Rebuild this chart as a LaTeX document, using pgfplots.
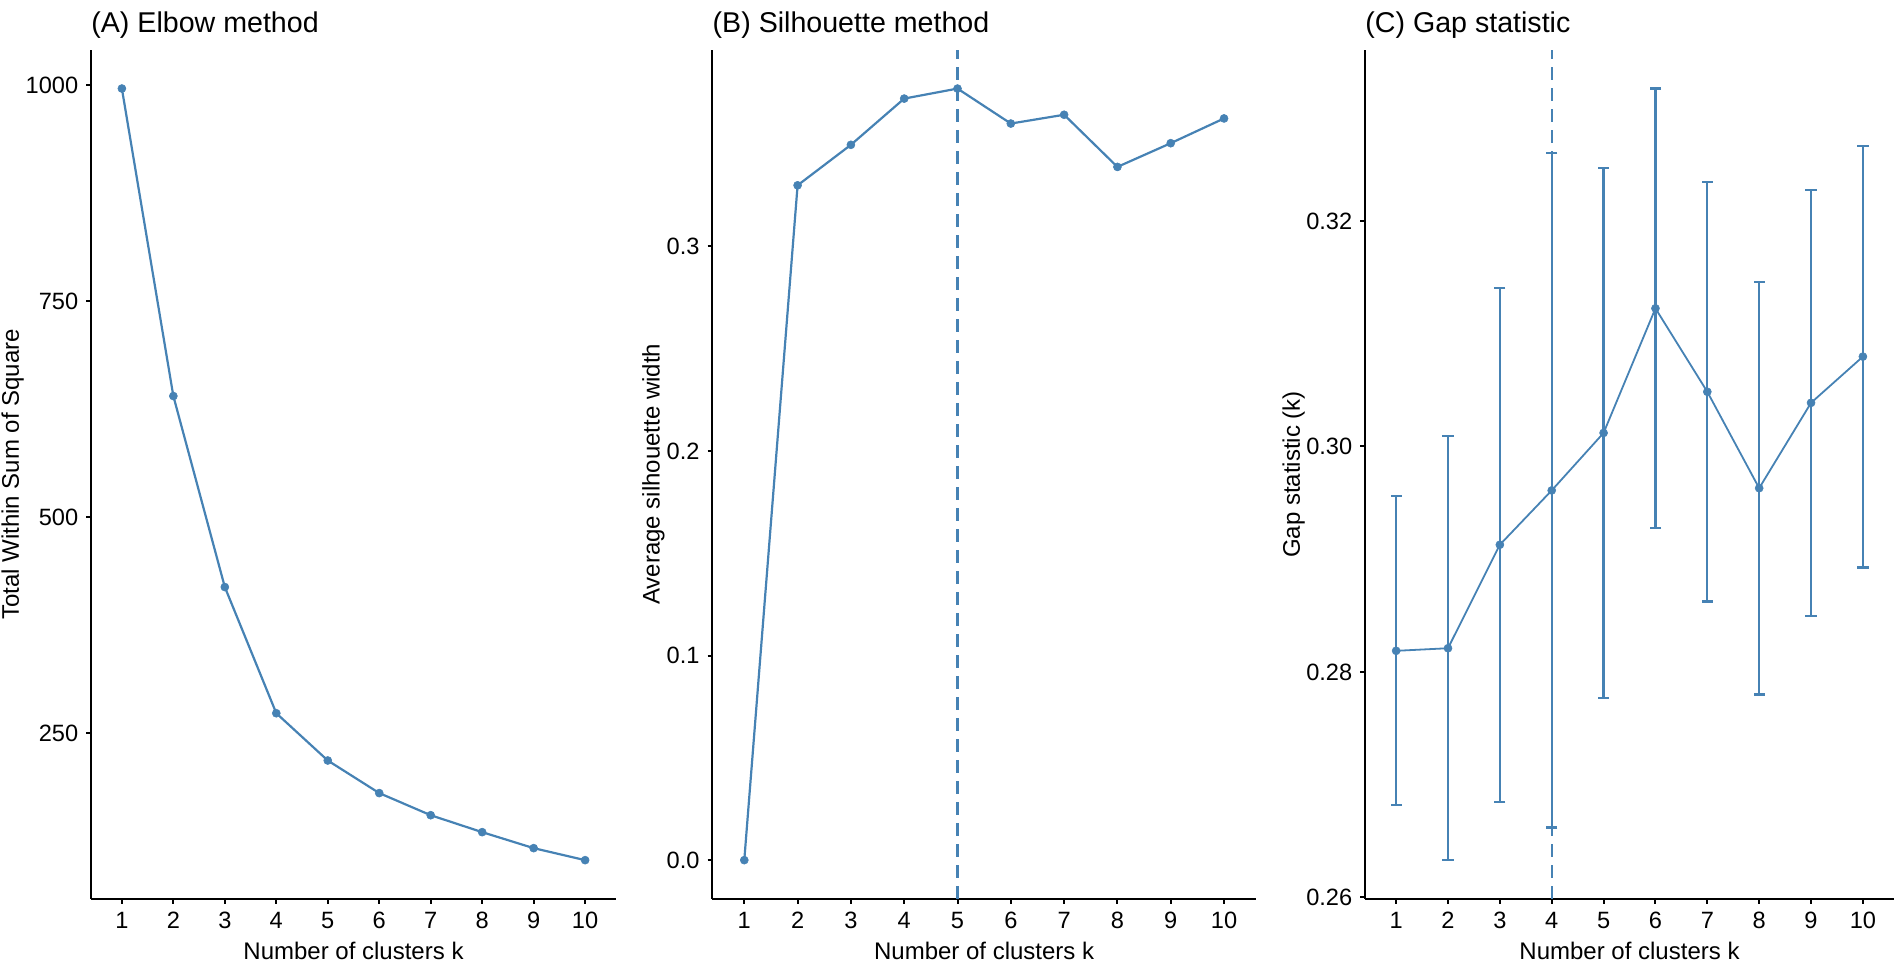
\documentclass[border=0pt]{standalone}
\usepackage{fontspec}
\setmainfont{Liberation Sans}
\usepackage{pgfplots}
\usepackage{pgfplotstable}
\pgfplotsset{compat=1.18}
\definecolor{steel}{RGB}{70,130,180}

\pgfplotstableread{
k gap se
1 0.28187 0.0137
2 0.2821 0.0188
3 0.29128 0.0228
4 0.2961 0.0299
5 0.3012 0.0235
6 0.31225 0.0195
7 0.30485 0.0186
8 0.2963 0.0183
9 0.30387 0.0189
10 0.30797 0.0187
}\gapdata

\pgfplotsset{
  panel/.style={
    scale only axis,
    height=424.35pt,
    anchor=south west,
    axis lines*=left,
    axis line style={line width=1pt, black},
    tick align=outside,
    major tick length=2.4pt,
    tick style={line width=1pt, black},
    xmin=0.4, xmax=10.6,
    xtick={1,...,10},
    xticklabels={1,2,3,4,5,6,7,8,9,10},
    tick label style={font=\fontsize{11.8}{14}\selectfont, inner sep=0pt},
    yticklabel shift=3.8pt,
    xticklabel shift=4.1pt,
    scaled y ticks=false,
    xlabel={Number of clusters k},
    every axis x label/.style={at={(axis description cs:0.5,-0.0507)}, anchor=north,
      inner sep=0pt, font=\fontsize{12}{14}\selectfont},
    every axis y label/.style={rotate=90, anchor=north, inner sep=0pt,
      font=\fontsize{12}{14}\selectfont},
    every axis title/.style={at={(axis description cs:0,1.0209)}, anchor=base west,
      inner sep=0pt, font=\fontsize{14.3}{17}\selectfont},
  },
  curve/.style={steel, line width=1.1pt, mark=*, mark size=2pt,
    mark options={solid, fill=steel, draw=steel, line width=0.3pt}},
  vline/.style={steel, line width=1.1pt, dash pattern=on 6.5pt off 4pt},
  cap/.style={only marks, mark=-, mark size=2.8pt,
    mark options={steel, line width=1.1pt, solid}},
}

\begin{document}
\begin{tikzpicture}
\useasboundingbox (0,0) rectangle (947pt,482pt);

% (A) elbow
\begin{axis}[panel,
  at={(45.5pt,32.65pt)}, width=262.5pt,
  ymin=58.4, ymax=1040.4,
  ytick={250,500,750,1000},
  yticklabels={250,500,750,1000},
  ylabel={Total Within Sum of Square},
  ylabel style={at={(axis description cs:-0.1714,0.5)}},
  title={(A) Elbow method},
]
\addplot[curve] coordinates {
  (1,995.8) (2,640) (3,419) (4,273) (5,218.3)
  (6,180.6) (7,155) (8,135.4) (9,116.9) (10,103)
};
\end{axis}

% (B) silhouette
\begin{axis}[panel,
  at={(356.15pt,32.65pt)}, width=271.85pt,
  ymin=-0.01886, ymax=0.39606,
  ytick={0,0.1,0.2,0.3},
  yticklabels={0.0,0.1,0.2,0.3},
  ylabel={Average silhouette width},
  ylabel style={at={(axis description cs:-0.1295,0.5)}},
  title={(B) Silhouette method},
]
\addplot[vline] coordinates {(5,-0.01886) (5,0.39606)};
\addplot[curve] coordinates {
  (1,0) (2,0.3299) (3,0.3497) (4,0.3723) (5,0.3772)
  (6,0.3601) (7,0.3644) (8,0.3389) (9,0.3505) (10,0.3626)
};
\end{axis}

% (C) gap statistic
\begin{axis}[panel,
  at={(682.5pt,32.65pt)}, width=264.5pt,
  ymin=0.25988, ymax=0.33517,
  ytick={0.26,0.28,0.30,0.32},
  yticklabels={0.26,0.28,0.30,0.32},
  ylabel={Gap statistic (k)},
  ylabel style={at={(axis description cs:-0.1569,0.5)}},
  title={(C) Gap statistic},
]
\addplot[vline] coordinates {(4,0.25988) (4,0.33517)};
% whiskers
\addplot[steel, line width=1.1pt, mark=none, draw=none,
  error bars/.cd, y dir=both, y explicit, error mark=none,
  error bar style={line width=1.1pt, steel, solid},
] table[x=k, y=gap, y error=se] {\gapdata};
% caps
\addplot[cap] table[x=k, y expr=\thisrow{gap}+\thisrow{se}] {\gapdata};
\addplot[cap] table[x=k, y expr=\thisrow{gap}-\thisrow{se}] {\gapdata};
% line and points
\addplot[curve, line width=0.9pt] table[x=k, y=gap] {\gapdata};
\end{axis}
\end{tikzpicture}
\end{document}
